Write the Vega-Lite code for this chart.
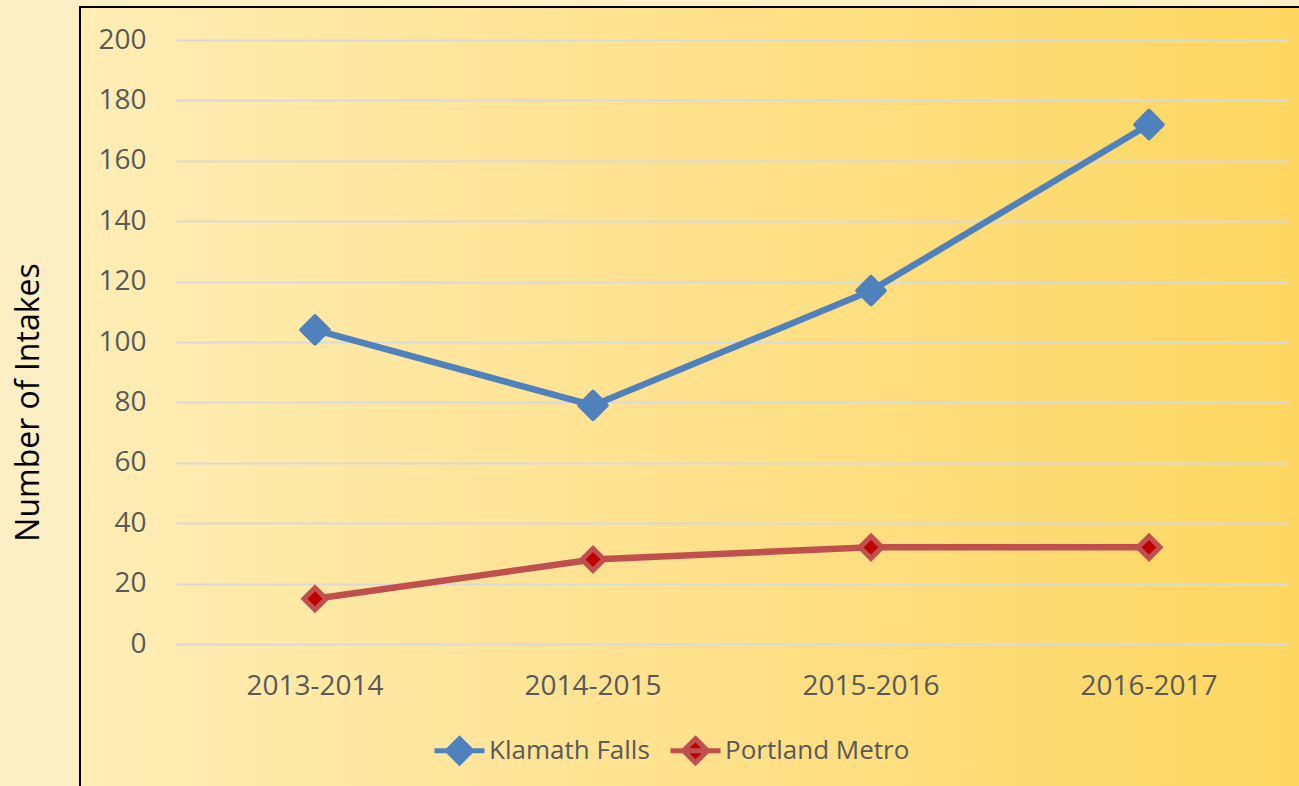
{
  "$schema": "https://vega.github.io/schema/vega-lite/v6.json",
  "width": 1222,
  "height": 782,
  "autosize": {"type": "none"},
  "padding": {"left": 80, "top": 7, "right": -3, "bottom": -3},
  "background": "#FDEFC4",
  "config": {
    "font": "Open Sans",
    "view": {
      "stroke": "#000000",
      "strokeWidth": 2,
      "fill": {
        "gradient": "linear",
        "x1": 0, "y1": 0, "x2": 1, "y2": 0,
        "stops": [
          {"offset": 0, "color": "#FEEDB5"},
          {"offset": 0.5, "color": "#FEE18C"},
          {"offset": 1, "color": "#FDD760"}
        ]
      }
    }
  },
  "data": {
    "values": [
      {"year": "2013-2014", "series": "Klamath Falls", "intakes": 104},
      {"year": "2014-2015", "series": "Klamath Falls", "intakes": 79},
      {"year": "2015-2016", "series": "Klamath Falls", "intakes": 117},
      {"year": "2016-2017", "series": "Klamath Falls", "intakes": 172},
      {"year": "2013-2014", "series": "Portland Metro", "intakes": 15},
      {"year": "2014-2015", "series": "Portland Metro", "intakes": 28},
      {"year": "2015-2016", "series": "Portland Metro", "intakes": 32},
      {"year": "2016-2017", "series": "Portland Metro", "intakes": 32}
    ]
  },
  "encoding": {
    "x": {
      "field": "year",
      "type": "nominal",
      "sort": null,
      "scale": {"type": "band", "range": [96, 1208], "paddingInner": 0, "paddingOuter": 0},
      "axis": {
        "title": null,
        "domain": false,
        "ticks": false,
        "grid": false,
        "labelAngle": 0,
        "labelFontSize": 28,
        "labelColor": "#595959",
        "labelPadding": 42,
        "labelBaseline": "middle",
        "offset": -145
      }
    },
    "y": {
      "field": "intakes",
      "type": "quantitative",
      "scale": {"domain": [0, 200], "range": [637, 33], "nice": false},
      "axis": {
        "title": "Number of Intakes",
        "titleFontSize": 32,
        "titleFontWeight": "normal",
        "titleColor": "#000000",
        "titleX": -52,
        "titleY": 395,
        "titleAngle": -90,
        "titleAlign": "center",
        "titleBaseline": "middle",
        "domain": false,
        "ticks": false,
        "values": [0, 20, 40, 60, 80, 100, 120, 140, 160, 180, 200],
        "grid": true,
        "gridColor": "#D9D9D9",
        "gridWidth": 2,
        "labelFontSize": 28,
        "labelColor": "#595959",
        "labelPadding": -66,
        "labelAlign": "right",
        "labelBaseline": "middle"
      }
    }
  },
  "layer": [
    {
      "mark": {"type": "line", "strokeWidth": 6.5},
      "encoding": {
        "color": {
          "field": "series",
          "type": "nominal",
          "scale": {"domain": ["Klamath Falls", "Portland Metro"], "range": ["#4F81BD", "#C0504D"]},
          "legend": {
            "orient": "none",
            "legendX": 352,
            "legendY": 716,
            "direction": "horizontal",
            "title": null,
            "padding": 0,
            "symbolType": "M-1,0L1,0M0,-0.48L0.48,0L0,0.48L-0.48,0Z",
            "symbolSize": 2500,
            "symbolStrokeWidth": 5,
            "labelFontSize": 26,
            "labelColor": "#595959",
            "labelOffset": 2,
            "labelLimit": 0,
            "columnPadding": 10,
            "encode": {
              "symbols": {
                "update": {
                  "fill": {"signal": "datum.value === 'Portland Metro' ? '#C00000' : '#4F81BD'"},
                  "stroke": {"signal": "datum.value === 'Portland Metro' ? '#C0504D' : '#4F81BD'"},
                  "strokeWidth": {"value": 5}
                }
              }
            }
          }
        }
      }
    },
    {
      "transform": [{"filter": "datum.series === 'Klamath Falls'"}],
      "mark": {"type": "point", "shape": "diamond", "filled": true, "size": 760, "fill": "#4F81BD", "stroke": "#4F81BD", "strokeWidth": 4, "strokeJoin": "round", "opacity": 1}
    },
    {
      "transform": [{"filter": "datum.series === 'Portland Metro'"}],
      "mark": {"type": "point", "shape": "diamond", "filled": true, "size": 484, "fill": "#C00000", "stroke": "#C0504D", "strokeWidth": 5, "opacity": 1}
    }
  ]
}
